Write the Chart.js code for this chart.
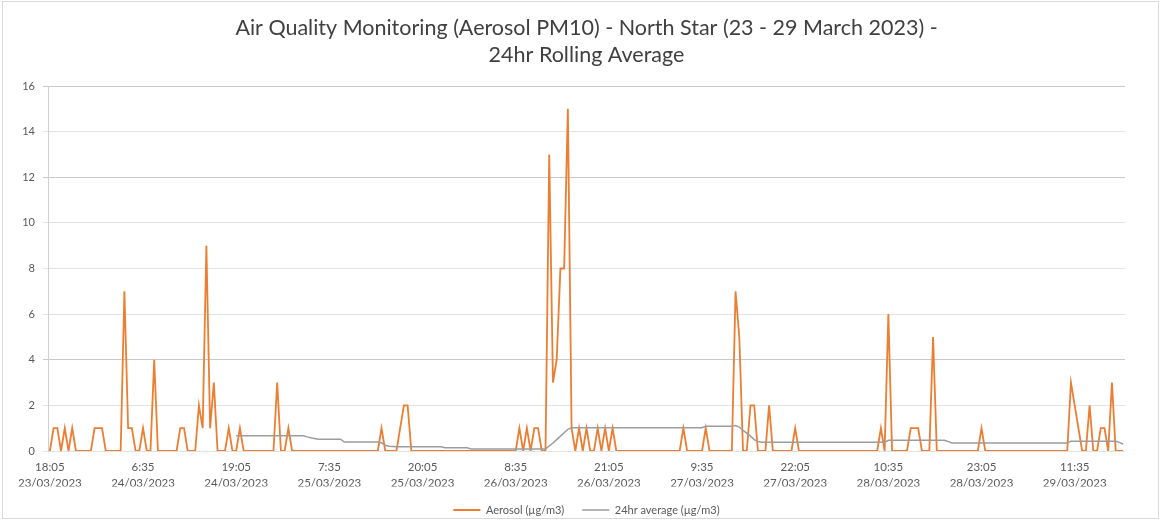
<!DOCTYPE html>
<html>
<head>
<meta charset="utf-8">
<script src="https://cdn.jsdelivr.net/npm/chart.js@4.4.0/dist/chart.umd.min.js"></script>
<style>
html,body{margin:0;padding:0;background:#fff;}
#wrap{position:relative;width:1161px;height:520px;overflow:hidden;}
#frame{position:absolute;left:2px;top:1px;width:1155px;height:516px;border:1px solid #d9d9d9;pointer-events:none;}
canvas{display:block;}
</style>
</head>
<body>
<div id="wrap"><canvas id="c" width="1161" height="520"></canvas><div id="frame"></div></div>
<script>
// Aerosol PM10 readings (µg/m3), every 30 minutes from 18:05 23/03/2023 to 18:05 29/03/2023
const aerosol = [
  0,1,1,0,1,0,1,0,0,0,
  0,0,1,1,1,0,0,0,0,0,
  7,1,1,0,0,1,0,0,4,0,
  0,0,0,0,0,1,1,0,0,0,
  2,1,9,1,3,0,0,0,1,0,
  0,1,0,0,0,0,0,0,0,0,
  0,3,0,0,1,0,0,0,0,0,
  0,0,0,0,0,0,0,0,0,0,
  0,0,0,0,0,0,0,0,0,1,
  0,0,0,0,1,2,2,0,0,0,
  0,0,0,0,0,0,0,0,0,0,
  0,0,0,0,0,0,0,0,0,0,
  0,0,0,0,0,0,1,0,1,0,
  1,1,0,0,13,3,4,8,8,15,
  1,0,1,0,1,0,0,1,0,1,
  0,1,0,0,0,0,0,0,0,0,
  0,0,0,0,0,0,0,0,0,0,
  1,0,0,0,0,0,1,0,0,0,
  0,0,0,0,7,5,0,0,2,2,
  0,0,0,2,0,0,0,0,0,0,
  1,0,0,0,0,0,0,0,0,0,
  0,0,0,0,0,0,0,0,0,0,
  0,0,0,1,0,6,0,0,0,0,
  0,1,1,1,0,0,0,5,0,0,
  0,0,0,0,0,0,0,0,0,0,
  1,0,0,0,0,0,0,0,0,0,
  0,0,0,0,0,0,0,0,0,0,
  0,0,0,0,3,2,1,0,0,2,
  0,0,1,1,0,3,0,0,0
];

// 24hr rolling average (µg/m3)
const avg24 = [
  null,null,null,null,null,null,null,null,null,null,
  null,null,null,null,null,null,null,null,null,null,
  null,null,null,null,null,null,null,null,null,null,
  null,null,null,null,null,null,null,null,null,null,
  null,null,null,null,null,null,null,null,null,null,
  0.67,0.67,0.67,0.67,0.67,0.67,0.67,0.67,0.67,0.67,
  0.67,0.67,0.67,0.67,0.67,0.67,0.67,0.67,0.67,0.62,
  0.58,0.55,0.52,0.52,0.52,0.52,0.52,0.52,0.52,0.39,
  0.39,0.39,0.39,0.39,0.39,0.39,0.39,0.39,0.39,0.36,
  0.25,0.21,0.2,0.19,0.19,0.19,0.19,0.19,0.19,0.19,
  0.19,0.19,0.19,0.19,0.19,0.19,0.14,0.14,0.14,0.14,
  0.14,0.14,0.14,0.09,0.09,0.09,0.09,0.09,0.09,0.09,
  0.09,0.09,0.09,0.09,0.09,0.09,0.09,0.09,0.09,0.09,
  0.09,0.09,0.09,0.09,0.22,0.35,0.5,0.65,0.8,0.95,
  1.02,1.02,1.02,1.02,1.02,1.02,1.02,1.02,1.02,1.02,
  1.02,1.02,1.02,1.02,1.02,1.02,1.02,1.02,1.02,1.02,
  1.02,1.02,1.02,1.02,1.02,1.02,1.02,1.02,1.02,1.02,
  1.02,1.02,1.02,1.02,1.02,1.02,1.08,1.08,1.08,1.08,
  1.08,1.08,1.08,1.08,1.12,1.05,0.9,0.78,0.65,0.5,
  0.42,0.38,0.38,0.38,0.38,0.38,0.38,0.38,0.38,0.38,
  0.38,0.38,0.38,0.38,0.38,0.38,0.38,0.38,0.38,0.38,
  0.38,0.38,0.38,0.38,0.38,0.38,0.38,0.38,0.38,0.38,
  0.38,0.38,0.38,0.38,0.38,0.47,0.47,0.47,0.47,0.47,
  0.47,0.47,0.47,0.47,0.47,0.47,0.47,0.47,0.47,0.47,
  0.47,0.42,0.35,0.35,0.35,0.35,0.35,0.35,0.35,0.35,
  0.35,0.35,0.35,0.35,0.35,0.35,0.35,0.35,0.35,0.35,
  0.35,0.35,0.35,0.35,0.35,0.35,0.35,0.35,0.35,0.35,
  0.35,0.35,0.35,0.35,0.43,0.43,0.43,0.43,0.43,0.43,
  0.43,0.43,0.43,0.43,0.43,0.43,0.43,0.38,0.3
];

// Tick labels shown on the category axis (every 25th category)
const tickLabels = [
  ['18:05','23/03/2023'],
  ['6:35','24/03/2023'],
  ['19:05','24/03/2023'],
  ['7:35','25/03/2023'],
  ['20:05','25/03/2023'],
  ['8:35','26/03/2023'],
  ['21:05','26/03/2023'],
  ['9:35','27/03/2023'],
  ['22:05','27/03/2023'],
  ['10:35','28/03/2023'],
  ['23:05','28/03/2023'],
  ['11:35','29/03/2023']
];
const TICK_EVERY = 25;

const seriesNames = ['Aerosol (µg/m3)', '24hr average (µg/m3)'];
const seriesColors = ['#ED7D31', '#9c9c9c'];
const titleLines = ['Air Quality Monitoring (Aerosol PM10) - North Star (23 - 29 March 2023) -', '24hr Rolling Average'];

// categories: timestamps at 30-minute steps
const START_DAY = 23, START_MIN = 18 * 60 + 5, STEP_MIN = 30;
const categories = aerosol.map((_, i) => {
  const t = START_MIN + i * STEP_MIN;
  const d = START_DAY + Math.floor(t / 1440);
  const m = t % 1440;
  return Math.floor(m / 60) + ':' + String(m % 60).padStart(2, '0') + ' ' + d + '/03/2023';
});

Chart.defaults.font.family = 'Lato, "Open Sans", sans-serif';

new Chart(document.getElementById('c'), {
  type: 'line',
  data: {
    labels: categories,
    datasets: [
      { label: seriesNames[0], data: aerosol, borderColor: seriesColors[0], backgroundColor: seriesColors[0],
        borderWidth: 1.8, pointRadius: 0, tension: 0, order: 1 },
      { label: seriesNames[1], data: avg24, borderColor: seriesColors[1], backgroundColor: seriesColors[1],
        borderWidth: 1.5, pointRadius: 0, tension: 0, order: 0, spanGaps: false }
    ]
  },
  options: {
    responsive: false,
    animation: false,
    devicePixelRatio: 1,
    layout: { padding: { left: 0, right: 36, top: 0, bottom: -5.5 } },
    plugins: {
      tooltip: { enabled: false },
      title: {
        display: true, text: titleLines, fullSize: false, color: '#404040',
        font: { size: 21.5, weight: 'normal', lineHeight: 27 / 21.5 },
        padding: { top: 14.5, bottom: 17.5 }
      },
      legend: {
        position: 'bottom', fullSize: false,
        labels: {
          boxWidth: 27, boxHeight: 0, padding: 18, color: '#595959',
          font: { size: 11 },
          sort: (a, b) => a.datasetIndex - b.datasetIndex
        }
      }
    },
    scales: {
      x: {
        type: 'category', offset: true,
        grid: { display: false, drawTicks: false },
        border: { display: false },
        ticks: {
          autoSkip: false, maxRotation: 0, minRotation: 0, padding: 8, color: '#595959',
          font: { size: 11.5, lineHeight: 16 / 11.5 },
          callback: (v, i) => (i % TICK_EVERY === 0 && tickLabels[i / TICK_EVERY]) ? tickLabels[i / TICK_EVERY] : ''
        },
        afterFit: s => { s.height = 35.5; }
      },
      y: {
        min: 0, max: 16,
        ticks: { stepSize: 2, padding: 8, color: '#595959', font: { size: 11 } },
        grid: {
          tickLength: 5, drawTicks: true,
          color: c => (c.tick && [16, 12, 4].includes(c.tick.value)) ? '#c9c9c9' : '#e2e2e2'
        },
        border: { display: true, color: '#cfcfcf' },
        afterFit: s => { s.width = 48; }
      }
    }
  }
});
</script>
</body>
</html>
